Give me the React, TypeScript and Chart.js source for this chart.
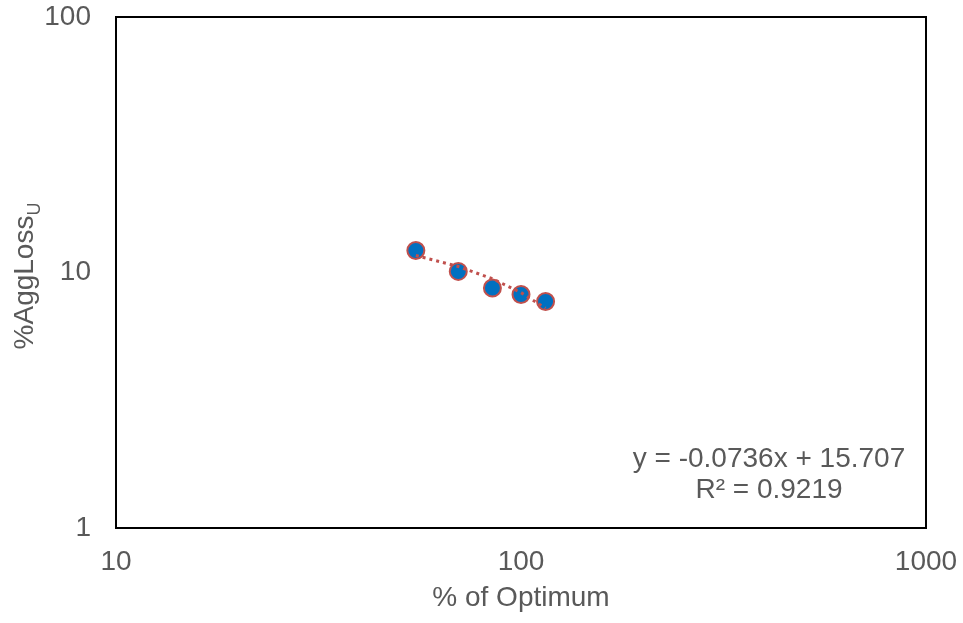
import React, { useEffect, useRef } from "react";
import { Chart, registerables } from "chart.js";

Chart.register(...registerables);

// ---- data ----
const optimumPct = [55, 70, 85, 100, 115];
const aggLossU = [12.2, 10.1, 8.7, 8.2, 7.7];
const xTickValues = [10, 100, 1000];
const yTickValues = [1, 10, 100];
const trendSlope = -0.0736;
const trendIntercept = 15.707;
const equationLines = ["y = -0.0736x + 15.707", "R\u00B2 = 0.9219"];
const xTitle = "% of Optimum";
const yTitleMain = "%AggLoss";
const yTitleSub = "U";

const FONT = "'Liberation Sans', Arial, sans-serif";
const GREY = "#595959";
const RED = "#C0504D";
const BLUE = "#0070C0";

const overlayPlugin = {
  id: "overlay",
  afterDatasetsDraw(chart: any) {
    const { ctx, chartArea } = chart;
    ctx.save();
    // plot frame
    ctx.strokeStyle = "#000";
    ctx.lineWidth = 2;
    ctx.strokeRect(chartArea.left, chartArea.top, chartArea.right - chartArea.left, chartArea.bottom - chartArea.top);

    // equation text
    ctx.fillStyle = GREY;
    ctx.font = `28px ${FONT}`;
    ctx.textAlign = "center";
    ctx.textBaseline = "alphabetic";
    ctx.fillText(equationLines[0], 769, 467);
    ctx.fillText(equationLines[1], 769, 498);

    // y axis title with subscript
    ctx.translate(33, 276);
    ctx.rotate(-Math.PI / 2);
    ctx.textAlign = "left";
    ctx.font = `28px ${FONT}`;
    const w1 = ctx.measureText(yTitleMain).width;
    ctx.font = `18px ${FONT}`;
    const w2 = ctx.measureText(yTitleSub).width;
    const start = -(w1 + w2) / 2;
    ctx.font = `28px ${FONT}`;
    ctx.fillText(yTitleMain, start, 0);
    ctx.font = `18px ${FONT}`;
    ctx.fillText(yTitleSub, start + w1, 7);
    ctx.restore();
  },
};

export default function App() {
  const ref = useRef<HTMLCanvasElement | null>(null);

  useEffect(() => {
    document.body.style.margin = "0";
    const canvas = ref.current;
    if (!canvas) return;
    const trendData = optimumPct.map((x) => ({ x, y: trendSlope * x + trendIntercept }));
    const chart = new Chart(canvas, {
      type: "scatter",
      data: {
        datasets: [
          {
            label: "Trend",
            data: trendData,
            showLine: true,
            borderColor: RED,
            borderWidth: 3,
            borderDash: [3, 4],
            pointRadius: 0,
            fill: false,
            order: 0,
          } as any,
          {
            label: "%AggLossU",
            data: optimumPct.map((x, i) => ({ x, y: aggLossU[i] })),
            backgroundColor: BLUE,
            borderColor: RED,
            borderWidth: 2,
            pointRadius: 8.5,
            order: 1,
          },
        ],
      },
      options: {
        responsive: false,
        animation: false,
        layout: { padding: { left: 0, top: 17, right: 37, bottom: 0 } },
        plugins: { legend: { display: false }, tooltip: { enabled: false } },
        scales: {
          x: {
            type: "logarithmic",
            min: 10,
            max: 1000,
            afterBuildTicks: (s: any) => {
              s.ticks = xTickValues.map((v) => ({ value: v }));
            },
            afterFit: (s: any) => {
              s.height = 95;
              s.paddingLeft = 0;
              s.paddingRight = 0;
            },
            grid: { display: false, drawTicks: false, tickLength: 0 },
            border: { display: false },
            ticks: {
              padding: 17,
              color: GREY,
              font: { family: FONT, size: 28 },
              maxRotation: 0,
              callback: (v: any) => String(v),
            },
            title: {
              display: true,
              text: xTitle,
              color: GREY,
              font: { family: FONT, size: 28 },
              padding: { top: 0, bottom: 8 },
            },
          },
          y: {
            type: "logarithmic",
            min: 1,
            max: 100,
            afterBuildTicks: (s: any) => {
              s.ticks = yTickValues.map((v) => ({ value: v }));
            },
            afterFit: (s: any) => {
              s.width = 116;
              s.paddingTop = 0;
              s.paddingBottom = 0;
            },
            grid: { display: false, drawTicks: false, tickLength: 0 },
            border: { display: false },
            ticks: {
              padding: 25,
              color: GREY,
              font: { family: FONT, size: 28 },
              callback: (v: any) => String(v),
            },
          },
        },
      },
      plugins: [overlayPlugin],
    });
    return () => chart.destroy();
  }, []);

  return (
    <div style={{ position: "absolute", left: 0, top: 0, width: 963, height: 623, background: "#fff" }}>
      <canvas ref={ref} width={963} height={623} />
    </div>
  );
}
